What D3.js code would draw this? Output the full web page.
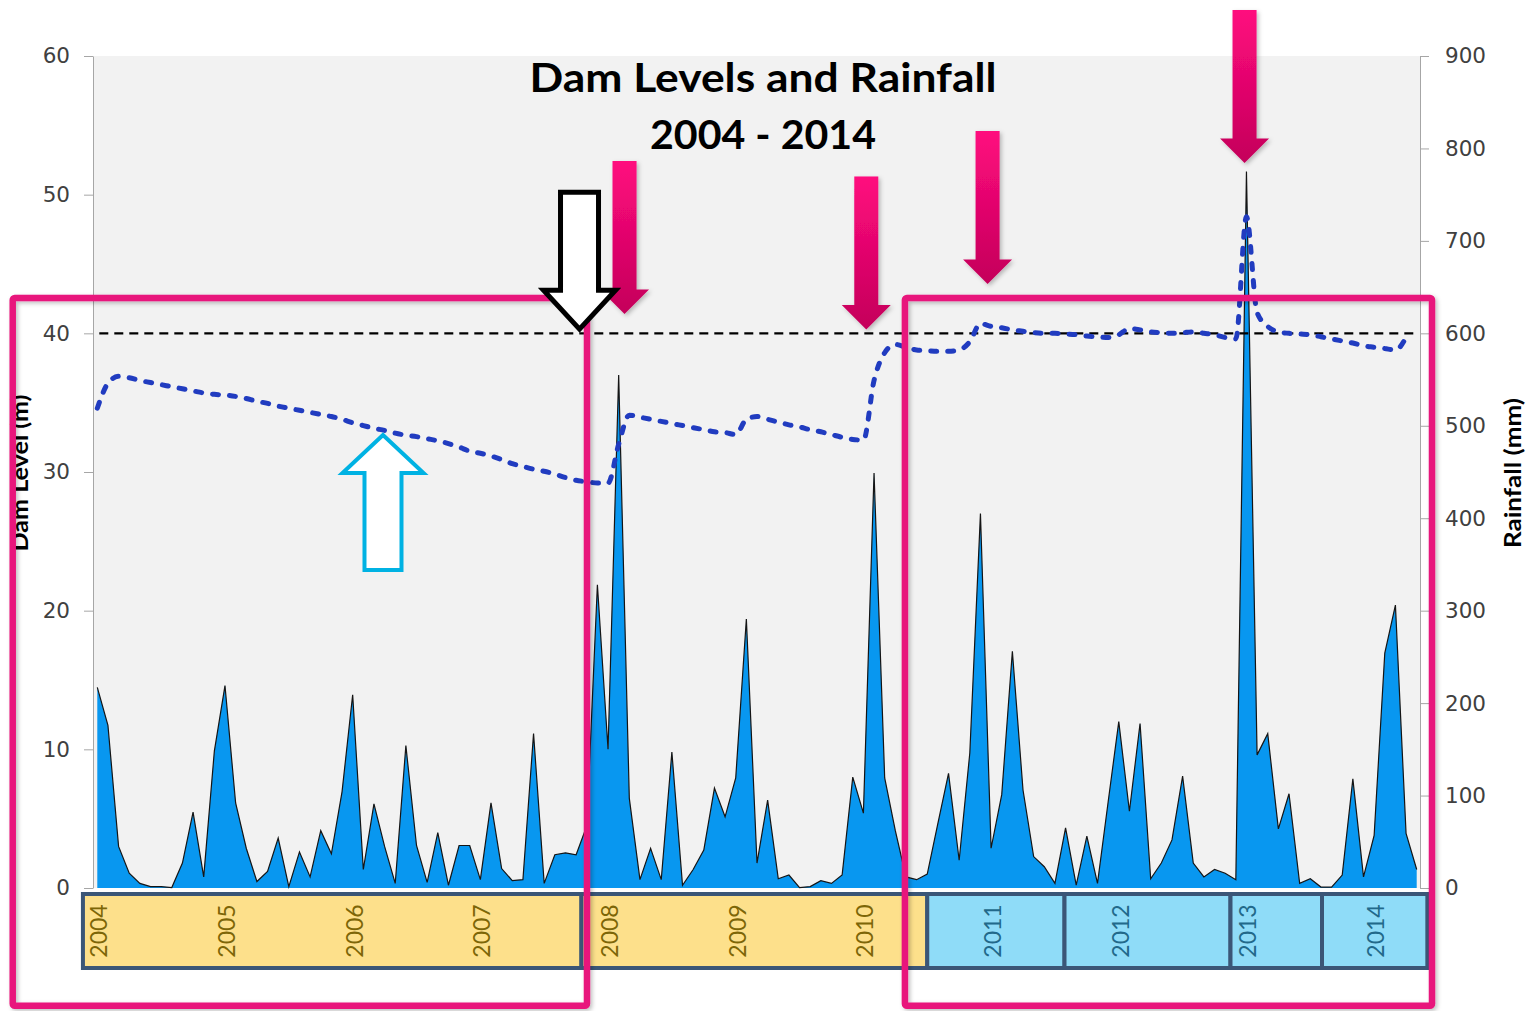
<!DOCTYPE html>
<html><head><meta charset="utf-8">
<script src="https://cdn.jsdelivr.net/npm/d3@7"></script>
<style>html,body{margin:0;padding:0;background:#fff;}svg{display:block;}</style>
</head><body>
<svg id="chart" width="1533" height="1011"></svg>
<script>
// ---------- data ----------
const years = ['2004','2005','2006','2007','2008','2009','2010','2011','2012','2013','2014'];
// monthly rainfall (mm), Jan 2004 .. May 2014
const rainfall = [217,176,45,16,5,1.5,1.5,0.5,27,82,12,148,
  219,92,43,7,18,54,1.5,39,12,62,37,104,
  209,20,91,45,5,154,46,6,60,3,46,46,
  9,92,21,8,9,167,5,36,38,36,67,328,
  150,555,97,9,43,9,147,3,20,41,108,77,
  119,291,27,95,10,14,0.5,1.5,8,5,14,120,
  81,449,119,62,12,9,15,70,124,30,146,405,
  43,101,256,106,34,23,5,65,3,56,5,93,
  180,83,178,10,27,52,121,27,12,20,16,9,
  775,144,167,64,102,5,10,1,1,14,118,12,
  57,254,306,59,20];
// monthly dam level (m), Jan 2004 .. Apr 2014
const damLevel = [34.6,36.4,36.9,36.8,36.6,36.45,36.3,36.15,36.0,35.85,
  35.7,35.6,35.55,35.45,35.3,35.1,34.95,34.75,34.6,34.45,
  34.3,34.15,34.0,33.8,33.55,33.35,33.15,33.0,32.8,32.65,
  32.55,32.4,32.25,32.05,31.8,31.5,31.35,31.15,30.9,30.6,
  30.4,30.2,30.05,29.85,29.6,29.4,29.3,29.2,29.2,32.0,
  34.1,33.95,33.8,33.65,33.5,33.35,33.2,33.05,32.9,32.85,
  32.7,33.8,34.0,33.8,33.6,33.4,33.25,33.05,32.9,32.7,
  32.5,32.35,32.3,36.6,38.6,39.2,39.0,38.8,38.75,38.7,
  38.7,38.8,39.4,40.7,40.5,40.4,40.25,40.15,40.05,40.0,
  40.0,39.95,39.9,39.8,39.75,39.7,39.9,40.35,40.25,40.1,
  40.05,40.0,40.05,40.1,40.0,39.9,39.7,39.6,48.4,41.5,
  40.5,40.1,40.0,39.95,39.9,39.75,39.6,39.45,39.3,39.1,
  39.0,38.9,38.8,39.7];
const fullSupplyLevel = 40;
const levelTicks = [0,10,20,30,40,50,60];
const rainTicks = [0,100,200,300,400,500,600,700,800,900];
// year band cells (in month index units)
const bandFrom = [-1.35, 45.5, 78.0, 90.9, 106.5, 115.1];
const bandTo   = [45.5, 78.0, 90.9, 106.5, 115.1, 125.0];
const bandKind = ['dry','dry','wet','wet','wet','wet'];
// annotations (month index, dam level at tip)
const pinkArrowMonth = [49.55, 72.27, 83.67, 107.82];
const pinkArrowTip   = [41.39, 40.28, 43.56, 52.28];

// ---------- layout ----------
const plotL = 93, plotR = 1420, plotT = 56, plotB = 888;
const svg = d3.select('#chart');

const x = d3.scaleLinear().domain([0,124]).range([97.3, 1416.7]);
const yL = d3.scaleLinear().domain([0,60]).range([plotB, plotT]);
const yR = d3.scaleLinear().domain([0,900]).range([plotB, plotT]);

const defs = svg.append('defs');
const grad = defs.append('linearGradient').attr('id','pinkGrad').attr('x1',0).attr('y1',0).attr('x2',0).attr('y2',1);
grad.append('stop').attr('offset','0%').attr('stop-color','#ff0a7e');
grad.append('stop').attr('offset','100%').attr('stop-color','#c4005a');
const sh = defs.append('filter').attr('id','shadow').attr('x','-30%').attr('y','-10%').attr('width','160%').attr('height','130%');
sh.append('feDropShadow').attr('dx',2).attr('dy',2).attr('stdDeviation',2).attr('flood-color','#000').attr('flood-opacity',0.25);

// plot background
svg.append('rect').attr('x',plotL).attr('y',plotT).attr('width',plotR-plotL).attr('height',plotB-plotT).attr('fill','#f2f2f2');

// rainfall area
svg.append('path').datum(rainfall)
  .attr('d', d3.area().x((d,i)=>x(i)).y0(yR(0)).y1(d=>yR(d)))
  .attr('fill','#0897f0');
svg.append('path').datum(rainfall)
  .attr('d', d3.line().x((d,i)=>x(i)).y(d=>yR(d)))
  .attr('fill','none').attr('stroke','#151515').attr('stroke-width',1.2).attr('stroke-linejoin','miter');

// full supply level
svg.append('line').attr('x1',x(0)+2).attr('x2',x(124)).attr('y1',yL(fullSupplyLevel)).attr('y2',yL(fullSupplyLevel))
  .attr('stroke','#000').attr('stroke-width',2.4).attr('stroke-dasharray','9 6');

// dam level
svg.append('path').datum(damLevel)
  .attr('d', d3.line().x((d,i)=>x(i)).y(d=>yL(d)).curve(d3.curveMonotoneX))
  .attr('fill','none').attr('stroke','#213cc0').attr('stroke-width',5)
  .attr('stroke-dasharray','6 11').attr('stroke-linecap','round');

// axes
const axL = svg.append('g').attr('transform',`translate(${plotL},0)`)
  .call(d3.axisLeft(yL).tickValues(levelTicks).tickSize(9).tickSizeOuter(0).tickPadding(14));
const axR = svg.append('g').attr('transform',`translate(${plotR},0)`)
  .call(d3.axisRight(yR).tickValues(rainTicks).tickSize(9).tickSizeOuter(0).tickPadding(16));
[axL, axR].forEach(a=>{
  a.select('.domain').attr('stroke','#a6a6a6');
  a.selectAll('.tick line').attr('stroke','#a6a6a6');
  a.selectAll('.tick text').attr('fill','#404040').style('font-family','"DejaVu Sans", Verdana, sans-serif').style('font-size','21.5px');
});

// axis titles
svg.append('text').attr('transform','translate(28,473) rotate(-90)').attr('text-anchor','middle')
  .style('font-family','Lato, sans-serif').style('font-weight','bold').style('font-size','22px')
  .attr('textLength',157).attr('lengthAdjust','spacingAndGlyphs').attr('fill','#000').text('Dam Level (m)');
svg.append('text').attr('transform','translate(1521,473) rotate(-90)').attr('text-anchor','middle')
  .style('font-family','Lato, sans-serif').style('font-weight','bold').style('font-size','22px')
  .attr('textLength',150).attr('lengthAdjust','spacingAndGlyphs').attr('fill','#000').text('Rainfall (mm)');

// title
const title = svg.append('g').style('font-family','Lato, sans-serif').style('font-weight','bold').style('font-size','40px');
title.append('text').attr('x',763).attr('y',92).attr('text-anchor','middle').attr('textLength',467).attr('lengthAdjust','spacingAndGlyphs').text('Dam Levels and Rainfall');
title.append('text').attr('x',763).attr('y',149).attr('text-anchor','middle').attr('textLength',226).attr('lengthAdjust','spacingAndGlyphs').text('2004 - 2014');

// year band
const bandT = 894, bandB = 968;
const band = svg.append('g');
bandFrom.forEach((f,i)=>{
  band.append('rect').attr('x',x(f)).attr('y',bandT).attr('width',x(bandTo[i])-x(f)).attr('height',bandB-bandT)
    .attr('fill', bandKind[i]==='dry' ? '#fde08b' : '#8fdcf8')
    .attr('stroke','#3b5677').attr('stroke-width',4);
});
years.forEach((y,k)=>{
  const m = 12*k;
  band.append('text').attr('transform',`translate(${x(m)+1},931) rotate(-90)`)
    .attr('text-anchor','middle').attr('dominant-baseline','central')
    .style('font-family','Lato, sans-serif').style('font-size','23px')
    .attr('fill', m < 78 ? '#7d6607' : '#22698a').text(y);
});

// highlight boxes
const boxes = [[-7.95, 46.02], [75.9, 125.44]];
boxes.forEach(b=>{
  svg.append('rect').attr('x',x(b[0])).attr('y',yL(42.55)).attr('width',x(b[1])-x(b[0])).attr('height',yL(-8.5)-yL(42.55))
    .attr('rx',2).attr('fill','none').attr('stroke','#e8167b').attr('stroke-width',6.5).attr('filter','url(#shadow)');
});

// arrows
function arrowPath(cx, tipY, len, shaftHW, headHW, headLen, dir){
  const base = tipY - dir*len, hb = tipY - dir*headLen;
  return `M${cx-shaftHW},${base}L${cx+shaftHW},${base}L${cx+shaftHW},${hb}L${cx+headHW},${hb}L${cx},${tipY}L${cx-headHW},${hb}L${cx-shaftHW},${hb}Z`;
}
pinkArrowMonth.forEach((m,i)=>{
  svg.append('path').attr('d', arrowPath(x(m), yL(pinkArrowTip[i]), 153, 12, 24.5, 24.5, 1))
    .attr('fill','url(#pinkGrad)').attr('filter','url(#shadow)');
});
svg.append('path').attr('d', arrowPath(x(45.32), yL(40.3), 137, 19, 36, 39, 1))
  .attr('fill','#fff').attr('stroke','#000').attr('stroke-width',5).attr('stroke-linejoin','miter');
svg.append('path').attr('d', arrowPath(x(26.85), yL(32.67), 135, 18.5, 40.5, 38, -1))
  .attr('fill','#fff').attr('stroke','#00b2e3').attr('stroke-width',4).attr('stroke-linejoin','miter');
</script>
</body></html>
